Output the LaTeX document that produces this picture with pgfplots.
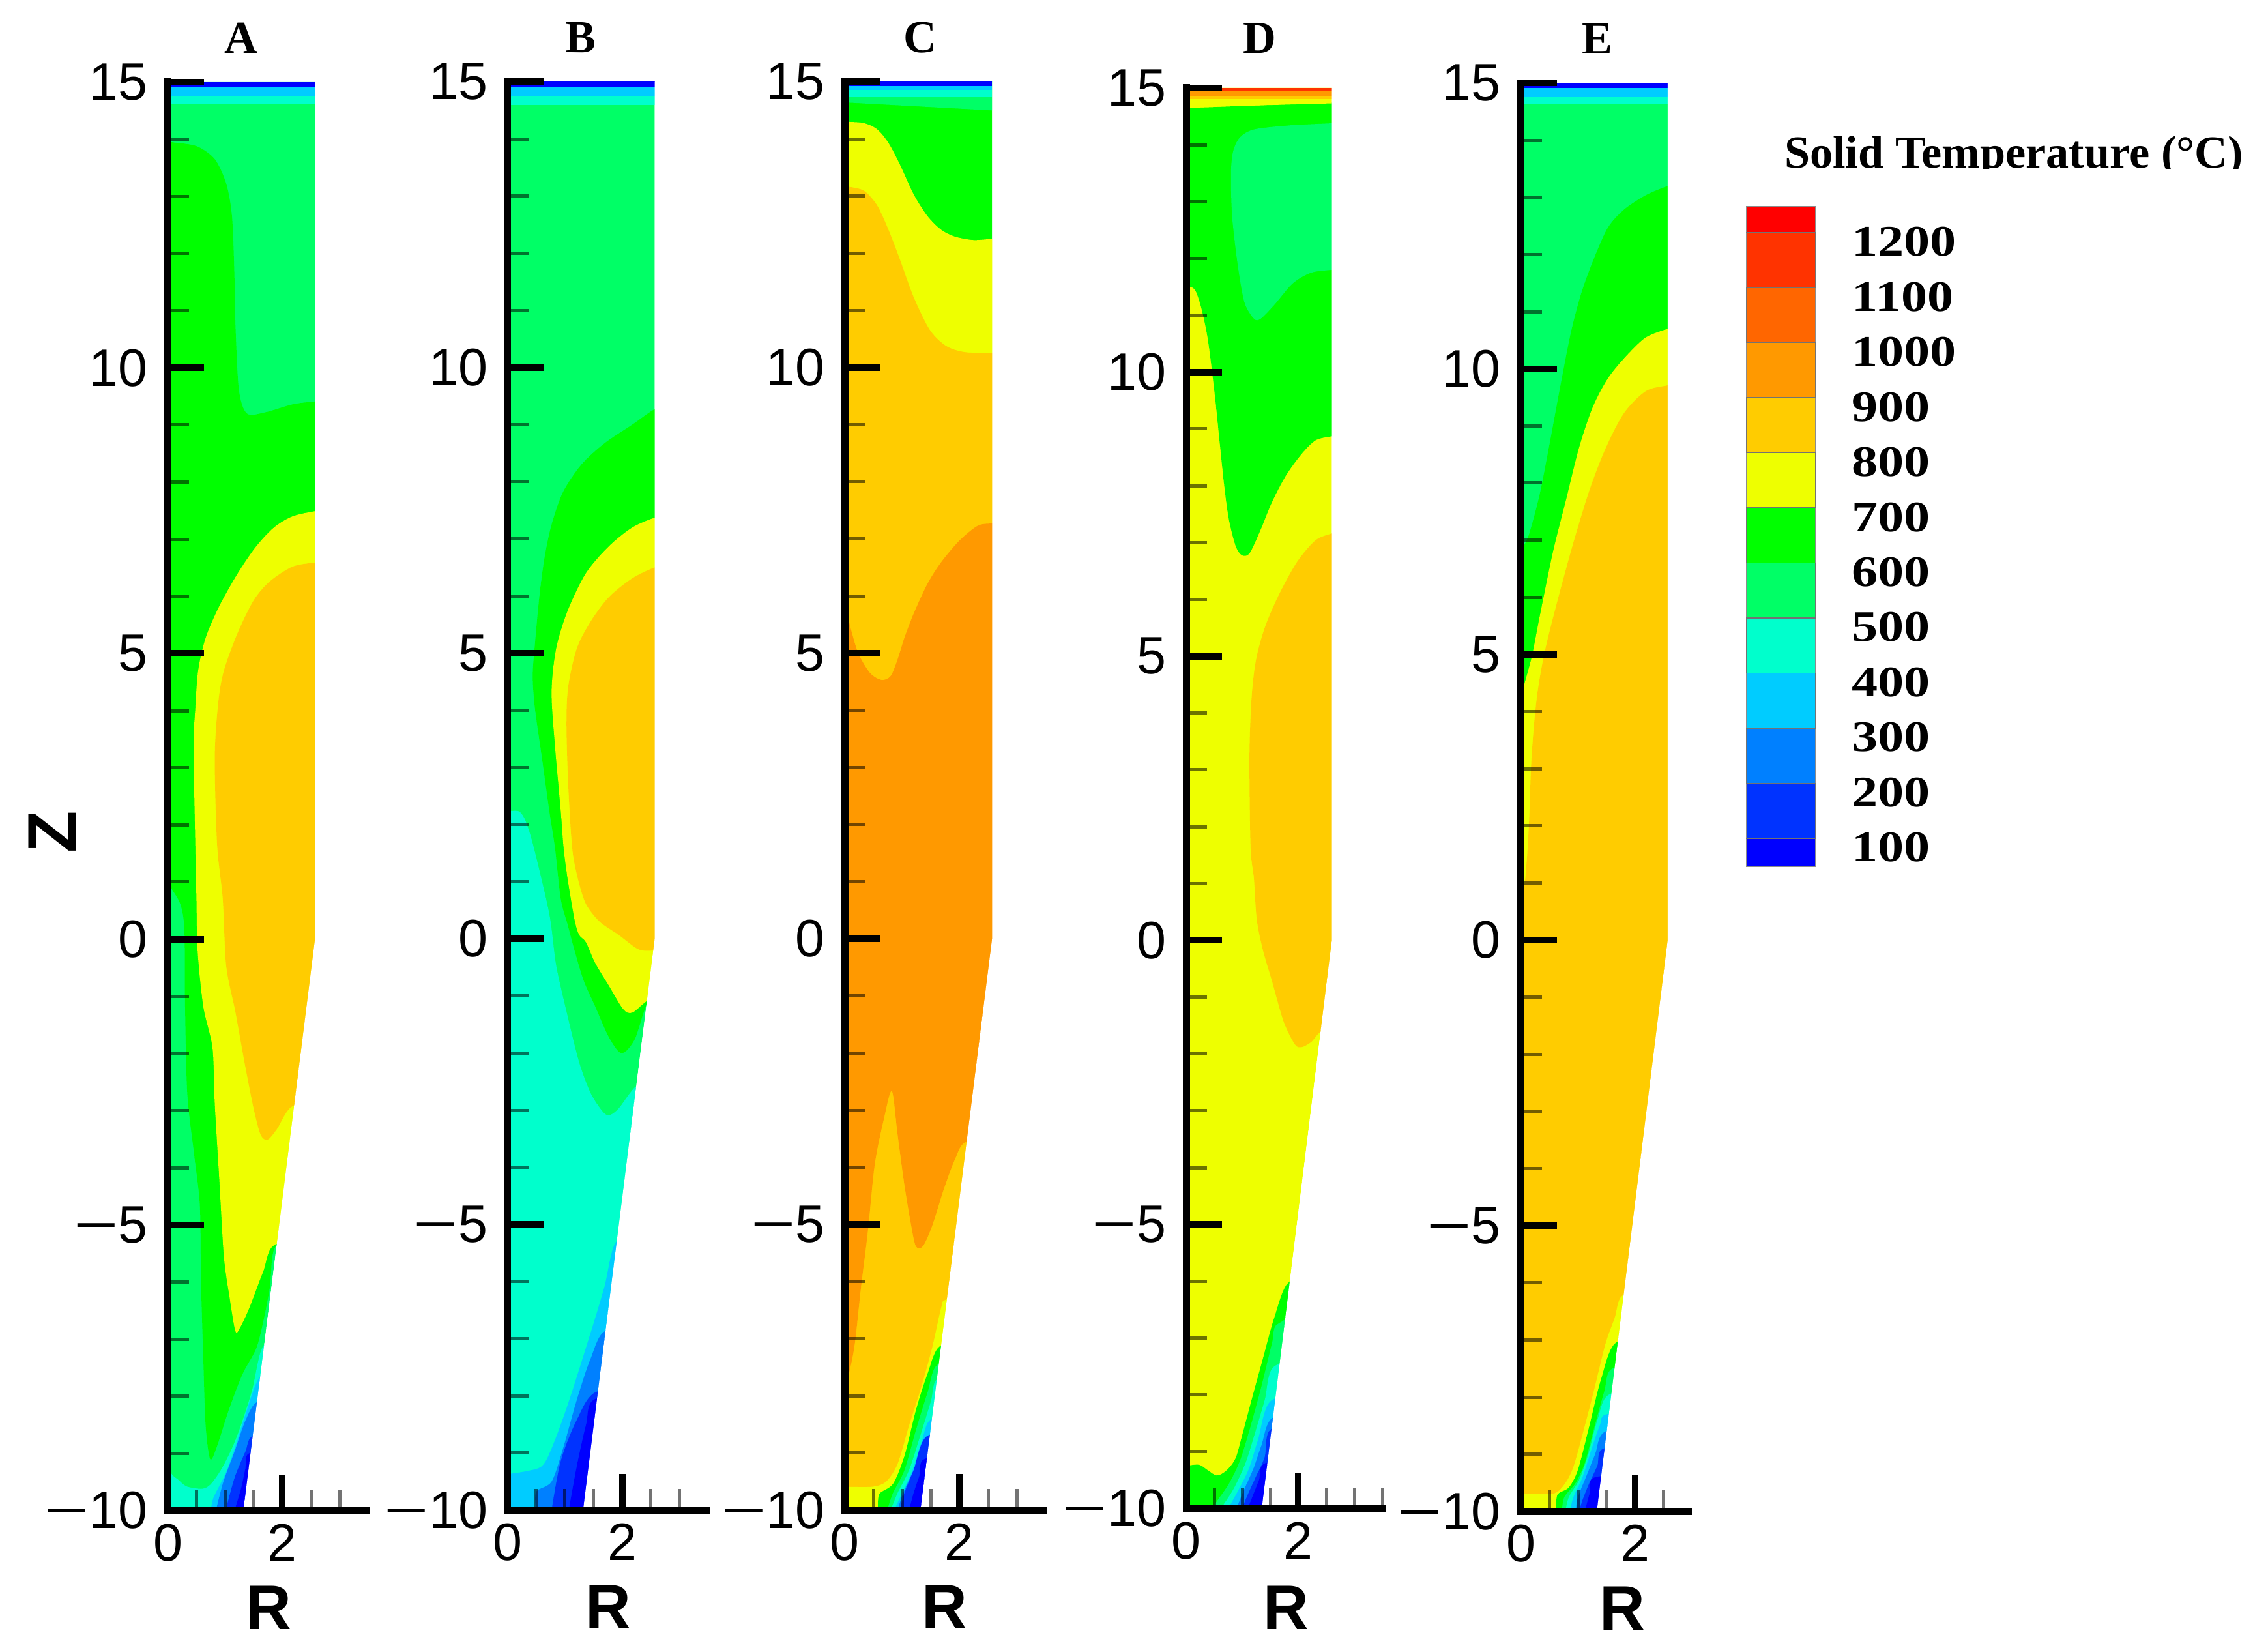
\documentclass[border=0pt]{standalone}
\usepackage{fontspec}
\usepackage{pgfplots}
\pgfplotsset{compat=1.18}
\setmainfont{Liberation Sans}
\newfontfamily\serf{Liberation Serif}
\newfontfamily\legnum[FakeStretch=1.2]{Liberation Serif}

\definecolor{c1}{HTML}{0000FF}
\definecolor{c2}{HTML}{0033FF}
\definecolor{c3}{HTML}{0080FF}
\definecolor{c4}{HTML}{00CCFF}
\definecolor{c5}{HTML}{00FFCC}
\definecolor{c6}{HTML}{00FF66}
\definecolor{c7}{HTML}{00FF00}
\definecolor{c8}{HTML}{EEFF00}
\definecolor{c9}{HTML}{FFCC00}
\definecolor{c10}{HTML}{FF9900}
\definecolor{c11}{HTML}{FF6600}
\definecolor{c12}{HTML}{FF3300}
\definecolor{c13}{HTML}{FF0000}

% straight-sided band, and a contour band with smoothed edges
\newcommand{\band}[2]{\addplot[fill=#1,draw=none,no markers,forget plot] coordinates {#2} -- cycle;}
\newcommand{\sband}[2]{\addplot[fill=#1,draw=none,no markers,forget plot,smooth,tension=0.5] coordinates {#2} -- cycle;}
\newcommand{\mn}{\scalebox{1.45}[1]{−}}

\pgfplotsset{
  panel/.style={
    scale only axis, anchor=south west,
    axis lines=left, axis on top,
    axis line style={-,line width=0.11cm,line cap=rect},
    tick align=inside,
    xmin=0, ymin=-10, ymax=15,
    xtick={0,2}, xticklabels={0,2},
    ytick={-10,-5,0,5,10,15}, yticklabels={\mn10,\mn5,0,5,10,15},
    minor xtick={0.5,1,1.5,2.5,3,3.5},
    minor ytick={-9,-8,-7,-6,-4,-3,-2,-1,1,2,3,4,6,7,8,9,11,12,13,14},
    major tick length=0.55cm, minor tick length=0.32cm,
    major tick style={line width=0.1cm,black},
    minor tick style={line width=0.05cm,black,opacity=0.55},
    tick label style={font=\fontsize{23}{23}\selectfont,inner sep=0pt},
    xticklabel style={yshift=-0.2cm},
    yticklabel style={xshift=-0.3cm},
    xlabel=R,
    title style={font=\fontsize{20}{20}\selectfont\serf\bfseries,anchor=center,yshift=-6pt},
    xlabel style={font=\fontsize{27.5}{27.5}\selectfont\bfseries,anchor=center},
  }
}

\begin{document}
\begin{tikzpicture}
\path[use as bounding box] (0,0) rectangle (34.8,25.31);

% ---- A
\begin{axis}[panel, at={(2.575cm,2.14cm)}, width=3.05cm, height=21.91cm, xmax=3.47,
  title=A, title style={at={(axis description cs:0.369,1.031)}},
  xlabel style={at={(axis description cs:0.507,-0.068)}},
  ylabel=Z, ylabel style={at={(axis description cs:-0.582,0.475)},anchor=center,font=\fontsize{30}{30}\selectfont\bfseries}]
\band{c6}{(0,15)(2.57,15)(2.57,0)(1.32,-10)(0,-10)}
\sband{c7}{(0,13.96)(0.06,13.95)(0.5,13.88)(0.82,13.65)(1.02,13.22)(1.12,12.65)(1.16,11.7)(1.18,10.76)(1.24,9.62)(1.38,9.2)(1.7,9.22)(2.18,9.36)(2.57,9.41)(2.75,9.41)(2.75,9.2)(2.75,-5.2)(2.75,-5.38)(2.4,-5.38)(1.88,-5.38)(1.78,-6.1)(1.66,-6.72)(1.54,-7.17)(1.3,-7.62)(1.06,-8.25)(0.86,-8.87)(0.74,-9.1)(0.66,-8.5)(0.62,-7.35)(0.58,-6)(0.56,-4.67)(0.46,-3.77)(0.34,-2.7)(0.3,-1.09)(0.29,0.16)(0.22,0.61)(0.06,0.9)(0,1.1)}
\sband{c8}{(2.75,7.5)(2.57,7.49)(2.18,7.4)(1.86,7.21)(1.54,6.87)(1.22,6.4)(0.9,5.83)(0.66,5.27)(0.53,4.7)(0.48,4.03)(0.45,3.37)(0.48,1.67)(0.5,0.7)(0.52,-0.2)(0.62,-1.18)(0.78,-1.9)(0.82,-2.88)(0.9,-4.22)(0.98,-5.56)(1.08,-6.28)(1.18,-6.86)(1.26,-6.8)(1.42,-6.46)(1.66,-5.83)(1.88,-5.34)(2.75,-5.34)}
\sband{c9}{(2.75,6.6)(2.57,6.59)(2.18,6.52)(1.78,6.26)(1.5,5.93)(1.22,5.36)(0.98,4.7)(0.88,4.13)(0.82,3.18)(0.86,1.67)(0.96,0.7)(1.02,-0.47)(1.18,-1.27)(1.34,-2.16)(1.5,-2.97)(1.62,-3.42)(1.74,-3.51)(1.9,-3.33)(2.18,-2.92)(2.75,-2.92)}
\sband{c5}{(0,-9.24)(0.08,-9.38)(0.18,-9.46)(0.33,-9.58)(0.6,-9.62)(0.75,-9.54)(0.94,-9.27)(1.13,-8.89)(1.28,-8.5)(1.47,-7.9)(1.66,-7.13)(2,-7.13)(2,-10)(0,-10)}
\sband{c4}{(0.75,-10)(0.8,-9.77)(1.01,-9.35)(1.2,-8.82)(1.39,-8.21)(1.62,-7.65)(2,-7.65)(2,-10)}
\sband{c3}{(0.84,-10)(0.97,-9.5)(1.165,-8.97)(1.354,-8.43)(1.56,-8.1)(2,-8.1)(2,-10)}
\sband{c2}{(1.01,-10)(1.165,-9.43)(1.354,-8.97)(1.48,-8.7)(2,-8.7)(2,-10)}
\sband{c1}{(1.165,-10)(1.278,-9.62)(1.354,-9.27)(1.42,-9)(2,-9)(2,-10)}
\band{c5}{(0,15)(2.57,15)(2.57,14.62)(0,14.62)}
\band{c4}{(0,15)(2.57,15)(2.57,14.76)(0,14.76)}
\band{c1}{(0,15)(2.57,15)(2.57,14.91)(0,14.91)}
\band{white}{(2.57,15)(2.57,0)(1.32,-10)(3.6,-10)(3.6,15)}
\end{axis}

% ---- B
\begin{axis}[panel, at={(7.787cm,2.145cm)}, width=3.05cm, height=21.91cm, xmax=3.47,
  title=B, title style={at={(axis description cs:0.368,1.031)}},
  xlabel style={at={(axis description cs:0.507,-0.068)}}]
\band{c6}{(0,15)(2.57,15)(2.57,0)(1.32,-10)(0,-10)}
\sband{c7}{(2.75,9.28)(2.57,9.27)(2.18,9)(1.69,8.67)(1.29,8.3)(0.97,7.82)(0.77,7.25)(0.65,6.69)(0.56,6.02)(0.48,5.17)(0.44,4.6)(0.48,4.03)(0.6,3.18)(0.73,2.24)(0.83,1.59)(0.93,0.7)(1.05,0.25)(1.17,-0.2)(1.33,-0.73)(1.53,-1.18)(1.77,-1.72)(1.99,-2)(2.22,-1.76)(2.46,-1.09)(2.75,-1.09)}
\sband{c8}{(2.75,7.38)(2.57,7.37)(2.18,7.2)(1.77,6.87)(1.37,6.4)(1.05,5.74)(0.85,5.08)(0.77,4.32)(0.83,3.37)(0.93,2.24)(0.98,1.59)(1.05,1.05)(1.17,0.34)(1.25,0.07)(1.37,-0.06)(1.53,-0.42)(1.77,-0.82)(2.02,-1.23)(2.18,-1.29)(2.46,-1.07)(2.75,-1)}
\sband{c9}{(2.75,6.51)(2.57,6.5)(2.18,6.31)(1.77,5.98)(1.45,5.55)(1.21,5.08)(1.06,4.41)(1.03,3.75)(1.06,2.71)(1.13,1.59)(1.23,1.05)(1.37,0.61)(1.61,0.3)(1.94,0.07)(2.26,-0.17)(2.46,-0.21)(2.75,-0.17)}
\sband{c5}{(0,2.23)(0.2,2.23)(0.32,2.05)(0.46,1.59)(0.73,0.43)(0.85,-0.47)(1.05,-1.36)(1.25,-2.16)(1.45,-2.7)(1.65,-3.01)(1.77,-3.09)(1.94,-2.97)(2.26,-2.57)(2.6,-2.57)(2.6,-10)(0,-10)}
\sband{c4}{(0,-9.37)(0.32,-9.32)(0.6,-9.23)(0.77,-8.92)(1.05,-8.16)(1.45,-6.9)(1.69,-6.1)(1.9,-5.3)(2.4,-5.3)(2.4,-10)(0,-10)}
\sband{c3}{(0.5,-10)(0.5,-9.68)(0.77,-9.5)(0.97,-8.92)(1.21,-8.07)(1.45,-7.35)(1.71,-6.86)(2.4,-6.86)(2.4,-10)}
\sband{c2}{(0.77,-10)(0.93,-9.14)(1.21,-8.42)(1.55,-7.93)(2.4,-7.93)(2.4,-10)}
\sband{c1}{(1.07,-10)(1.21,-9.23)(1.37,-8.51)(1.52,-8.06)(2.4,-8.06)(2.4,-10)}
\band{c5}{(0,15)(2.57,15)(2.57,14.6)(0,14.6)}
\band{c4}{(0,15)(2.57,15)(2.57,14.76)(0,14.76)}
\band{c1}{(0,15)(2.57,15)(2.57,14.91)(0,14.91)}
\band{white}{(2.57,15)(2.57,0)(1.32,-10)(3.6,-10)(3.6,15)}
\end{axis}

% ---- C
\begin{axis}[panel, at={(12.964cm,2.145cm)}, width=3.05cm, height=21.91cm, xmax=3.47,
  title=C, title style={at={(axis description cs:0.379,1.031)}},
  xlabel style={at={(axis description cs:0.5,-0.068)}}]
\band{c7}{(0,15)(2.57,15)(2.57,0)(1.32,-10)(0,-10)}
\sband{c8}{(0,14.3)(0.32,14.28)(0.56,14.17)(0.76,13.93)(0.96,13.55)(1.2,13.03)(1.44,12.65)(1.68,12.41)(1.92,12.29)(2.24,12.23)(2.57,12.25)(2.75,12.25)(2.75,12)(2.75,-10)(0,-10)}
\sband{c9}{(0,13.17)(0.32,13.1)(0.56,12.84)(0.76,12.41)(0.96,11.89)(1.2,11.23)(1.48,10.66)(1.76,10.38)(2.08,10.27)(2.57,10.25)(2.75,10.25)(2.75,10)(2.75,-10)(0,-10)}
\sband{c10}{(2.75,7.28)(2.57,7.27)(2.32,7.23)(2,6.97)(1.68,6.59)(1.44,6.21)(1.2,5.69)(1.04,5.27)(0.92,4.89)(0.8,4.6)(0.64,4.53)(0.44,4.65)(0.24,4.98)(0.12,5.36)(0,5.83)(0,5.6)(0,-7.7)(0,-7.89)(0.16,-7.17)(0.28,-6.1)(0.4,-5.12)(0.52,-3.95)(0.68,-3.15)(0.82,-2.66)(0.92,-3.42)(1.04,-4.31)(1.16,-5.03)(1.24,-5.38)(1.36,-5.38)(1.52,-5.03)(1.72,-4.4)(1.92,-3.86)(2.12,-3.55)(2.75,-3.55)}
\sband{c8}{(0,-9.59)(0.48,-9.59)(0.72,-9.5)(0.92,-9.19)(1.12,-8.52)(1.32,-7.89)(1.52,-7.17)(1.68,-6.46)(1.76,-6.32)(2.2,-6.32)(2.2,-10)(0,-10)}
\sband{c7}{(0.58,-10)(0.6,-9.72)(0.84,-9.54)(1.04,-9.05)(1.24,-8.25)(1.44,-7.62)(1.66,-7.13)(2.2,-7.13)(2.2,-10)}
\sband{c6}{(0.74,-10)(0.84,-9.7)(1.04,-9.3)(1.24,-8.6)(1.44,-7.95)(1.62,-7.45)(2.2,-7.45)(2.2,-10)}
\sband{c5}{(0.8,-10)(0.92,-9.7)(1.12,-9.3)(1.3,-8.75)(1.5,-8.1)(1.62,-7.7)(2.2,-7.7)(2.2,-10)}
\sband{c4}{(0.86,-10)(1,-9.7)(1.18,-9.3)(1.34,-8.8)(1.52,-8.4)(2.2,-8.4)(2.2,-10)}
\sband{c3}{(0.92,-10)(1.02,-9.7)(1.2,-9.3)(1.4,-8.9)(2.2,-8.9)(2.2,-10)}
\sband{c2}{(0.96,-10)(1.04,-9.7)(1.2,-9.3)(1.44,-8.7)(2.2,-8.7)(2.2,-10)}
\sband{c1}{(1.12,-10)(1.2,-9.7)(1.3,-9.4)(1.4,-9.1)(2.2,-9.1)(2.2,-10)}
\band{c6}{(0,15)(2.57,15)(2.57,14.5)(0,14.64)}
\band{c5}{(0,15)(2.57,15)(2.57,14.73)(0,14.73)}
\band{c4}{(0,15)(2.57,15)(2.57,14.86)(0,14.86)}
\band{c1}{(0,15)(2.57,15)(2.57,14.92)(0,14.92)}
\band{white}{(2.57,15)(2.57,0)(1.32,-10)(3.6,-10)(3.6,15)}
\end{axis}

% ---- D
\begin{axis}[panel, at={(18.2cm,2.17cm)}, width=3.01cm, height=21.79cm, xmax=3.5,
  title=D, title style={at={(axis description cs:0.375,1.035)}},
  xlabel style={at={(axis description cs:0.508,-0.07)}}]
\band{c8}{(0,15)(2.6,15)(2.6,0)(1.35,-10)(0,-10)}
\sband{c7}{(0,14.65)(0.1,14.65)(2.5,14.74)(2.75,14.74)(2.75,14.6)(2.75,9)(2.75,8.87)(2.6,8.87)(2.31,8.8)(2.06,8.56)(1.78,8.18)(1.53,7.71)(1.33,7.23)(1.13,6.81)(0.99,6.78)(0.88,6.95)(0.76,7.42)(0.68,8)(0.6,8.75)(0.51,9.61)(0.39,10.56)(0.27,11.13)(0.15,11.46)(0,11.5)}
\sband{c6}{(2.75,14.39)(2.6,14.38)(1.82,14.34)(1.21,14.27)(0.96,14.13)(0.84,13.89)(0.8,13.51)(0.82,12.75)(0.92,11.89)(1.04,11.23)(1.21,10.94)(1.33,10.94)(1.57,11.18)(1.9,11.56)(2.23,11.75)(2.6,11.8)(2.75,11.8)}
\sband{c9}{(2.75,7.2)(2.6,7.16)(2.31,7.04)(1.98,6.66)(1.66,6.09)(1.41,5.52)(1.25,4.95)(1.17,4.29)(1.13,3.24)(1.15,1.64)(1.21,1.09)(1.26,0.37)(1.37,-0.17)(1.53,-0.71)(1.74,-1.43)(1.94,-1.83)(2.06,-1.88)(2.23,-1.79)(2.41,-1.61)(2.75,-1.61)}
\sband{c7}{(0,-9.25)(0.23,-9.23)(0.39,-9.33)(0.55,-9.42)(0.72,-9.33)(0.88,-9.12)(1,-8.71)(1.17,-8.08)(1.37,-7.36)(1.57,-6.65)(1.82,-6.03)(2.3,-6.03)(2.3,-10)(0,-10)}
\sband{c6}{(0.51,-10)(0.51,-9.93)(0.76,-9.57)(0.96,-9.16)(1.13,-8.62)(1.33,-7.9)(1.53,-7.1)(1.64,-6.75)(2.3,-6.75)(2.3,-10)}
\sband{c5}{(0.62,-10)(0.85,-9.65)(1.06,-9.2)(1.22,-8.7)(1.4,-8.1)(1.57,-7.5)(2.3,-7.5)(2.3,-10)}
\sband{c4}{(0.75,-10)(0.92,-9.7)(1.12,-9.3)(1.28,-8.8)(1.52,-8.1)(2.3,-8.1)(2.3,-10)}
\sband{c3}{(0.9,-10)(1.02,-9.7)(1.2,-9.3)(1.34,-8.9)(1.55,-8.4)(2.3,-8.4)(2.3,-10)}
\sband{c2}{(1,-10)(1.08,-9.8)(1.24,-9.45)(1.4,-9.1)(1.52,-8.6)(2.3,-8.6)(2.3,-10)}
\sband{c1}{(1.1,-10)(1.18,-9.8)(1.3,-9.5)(1.42,-9.2)(2.3,-9.2)(2.3,-10)}
\band{c8}{(0,15)(2.6,15)(2.6,14.73)(0,14.66)}
\band{c9}{(0,15)(2.6,15)(2.6,14.8)(0,14.8)}
\band{c10}{(0,15)(2.6,15)(2.6,14.86)(0,14.86)}
\band{c12}{(0,15)(2.6,15)(2.6,14.94)(0,14.94)}
\band{white}{(2.6,15)(2.6,0)(1.35,-10)(3.6,-10)(3.6,15)}
\end{axis}

% ---- E
\begin{axis}[panel, at={(23.335cm,2.125cm)}, width=2.57cm, height=21.91cm, xmax=2.93,
  title=E, title style={at={(axis description cs:0.457,1.031)}},
  xlabel style={at={(axis description cs:0.605,-0.068)}}]
\band{c6}{(0,15)(2.57,15)(2.57,0)(1.33,-10)(0,-10)}
\sband{c7}{(2.75,13.25)(2.57,13.2)(2.19,13.04)(1.81,12.79)(1.53,12.48)(1.3,11.98)(1.07,11.36)(0.88,10.65)(0.7,9.74)(0.51,8.72)(0.33,7.8)(0.14,7.09)(0,6.78)(0,6.5)(0,-9.8)(0,-10)(2.5,-10)(2.75,-10)}
\sband{c8}{(2.75,10.75)(2.57,10.7)(2.19,10.55)(1.86,10.24)(1.53,9.84)(1.26,9.33)(1.02,8.62)(0.79,7.7)(0.56,6.78)(0.33,5.66)(0.19,4.95)(0,4.24)(0,4)(0,-9.8)(0,-10)(2.5,-10)(2.75,-10)}
\sband{c9}{(2.75,9.75)(2.57,9.71)(2.19,9.61)(1.81,9.23)(1.49,8.62)(1.21,7.9)(0.93,6.99)(0.65,5.97)(0.42,5.05)(0.28,4.24)(0.19,3.22)(0.15,2.2)(0.12,1.6)(0.07,1)(0,0.6)(0,0.4)(0,-9.8)(0,-10)(2.5,-10)(2.75,-10)}
\sband{c8}{(0,-9.69)(0.56,-9.69)(0.76,-9.53)(0.92,-9.22)(1.12,-8.5)(1.28,-7.88)(1.48,-7.07)(1.64,-6.62)(1.78,-6.22)(2.3,-6.22)(2.3,-10)(0,-10)}
\sband{c7}{(0.62,-10)(0.64,-9.71)(0.84,-9.58)(1,-9.27)(1.2,-8.5)(1.4,-7.7)(1.66,-7.05)(2.3,-7.05)(2.3,-10)}
\sband{c6}{(0.72,-10)(0.76,-9.75)(0.96,-9.5)(1.12,-9.15)(1.28,-8.55)(1.46,-7.9)(1.6,-7.5)(2.3,-7.5)(2.3,-10)}
\sband{c5}{(0.78,-10)(0.84,-9.75)(1.02,-9.45)(1.18,-9)(1.34,-8.4)(1.55,-7.95)(2.3,-7.95)(2.3,-10)}
\sband{c4}{(0.86,-10)(0.92,-9.75)(1.08,-9.4)(1.24,-8.9)(1.38,-8.5)(1.5,-8.3)(2.3,-8.3)(2.3,-10)}
\sband{c3}{(0.96,-10)(1,-9.75)(1.16,-9.35)(1.3,-9)(1.48,-8.6)(2.3,-8.6)(2.3,-10)}
\sband{c2}{(1.02,-10)(1.08,-9.8)(1.2,-9.5)(1.34,-9.2)(1.45,-8.9)(2.3,-8.9)(2.3,-10)}
\sband{c1}{(1.12,-10)(1.2,-9.7)(1.3,-9.4)(2.3,-9.4)(2.3,-10)}
\band{c5}{(0,15)(2.57,15)(2.57,14.64)(0,14.64)}
\band{c4}{(0,15)(2.57,15)(2.57,14.76)(0,14.76)}
\band{c1}{(0,15)(2.57,15)(2.57,14.91)(0,14.91)}
\band{white}{(2.57,15)(2.57,0)(1.33,-10)(3.6,-10)(3.6,15)}
\end{axis}

% ---- colour scale
\begin{axis}[scale only axis, anchor=south west, at={(26.79cm,12.01cm)}, width=1.07cm, height=10.13cm,
  xmin=0, xmax=1, ymin=48, ymax=1247,
  axis line style={draw=none}, hide x axis, tick style={draw=none}, major tick length=0pt,
  ytick={100,200,300,400,500,600,700,800,900,1000,1100,1200},
  yticklabels={100,200,300,400,500,600,700,800,900,1000,1100,1200},
  ytick pos=right, yticklabel pos=right,
  yticklabel style={anchor=west,inner sep=0pt,xshift=0.55cm,yshift=-0.14cm,font=\fontsize{19}{19}\selectfont\legnum\bfseries},
  title={Solid Temperature (°C)},
  title style={at={(axis description cs:3.84,1.059)},anchor=base,yshift=-6pt,font=\fontsize{20}{20}\selectfont\serf\bfseries}]
\band{c1}{(0,48)(1,48)(1,100)(0,100)}
\band{c2}{(0,100)(1,100)(1,200)(0,200)}
\band{c3}{(0,200)(1,200)(1,300)(0,300)}
\band{c4}{(0,300)(1,300)(1,400)(0,400)}
\band{c5}{(0,400)(1,400)(1,500)(0,500)}
\band{c6}{(0,500)(1,500)(1,600)(0,600)}
\band{c7}{(0,600)(1,600)(1,700)(0,700)}
\band{c8}{(0,700)(1,700)(1,800)(0,800)}
\band{c9}{(0,800)(1,800)(1,900)(0,900)}
\band{c10}{(0,900)(1,900)(1,1000)(0,1000)}
\band{c11}{(0,1000)(1,1000)(1,1100)(0,1100)}
\band{c12}{(0,1100)(1,1100)(1,1200)(0,1200)}
\band{c13}{(0,1200)(1,1200)(1,1247)(0,1247)}
\addplot[draw=black!45,line width=0.25mm,no markers,forget plot] coordinates {(0,48)(1,48)(1,1247)(0,1247)(0,48)};
\addplot[draw=black!55,line width=0.15mm,no markers,forget plot] coordinates {(0,100)(1,100)(1,200)(0,200)(0,300)(1,300)(1,400)(0,400)(0,500)(1,500)(1,600)(0,600)(0,700)(1,700)(1,800)(0,800)(0,900)(1,900)(1,1000)(0,1000)(0,1100)(1,1100)(1,1200)(0,1200)};
\end{axis}

% the title is cut off just under its baseline in the original
\fill[white] (27,22.71) rectangle (34.8,22.4);
\end{tikzpicture}
\end{document}
